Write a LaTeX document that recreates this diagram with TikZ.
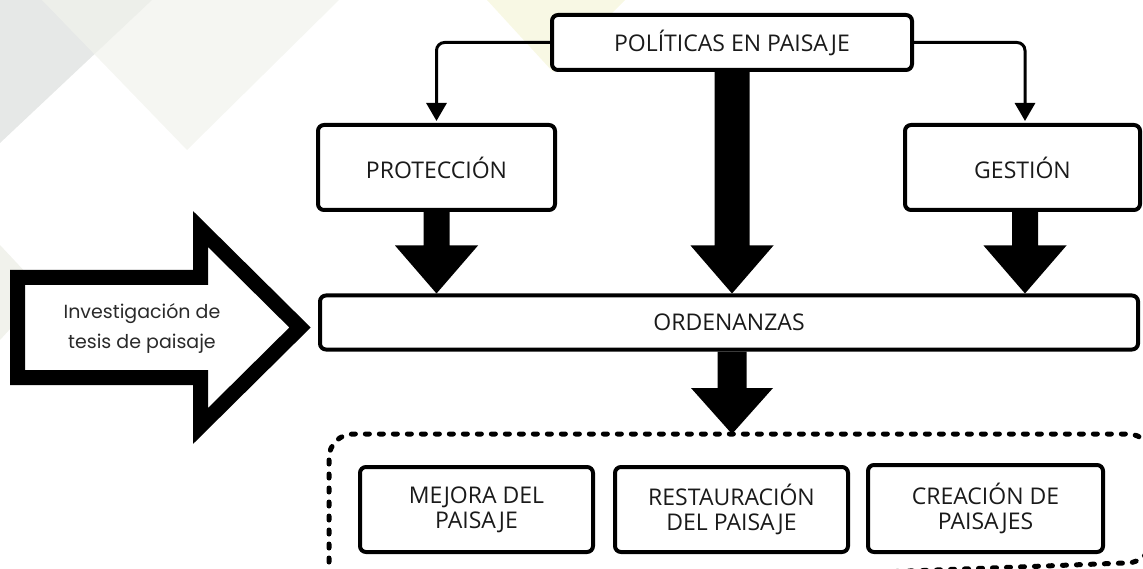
\documentclass[tikz,border=0pt]{standalone}
\usepackage{fontspec}
\setmainfont{Open Sans}
\newfontfamily\popfont{Poppins}
\usetikzlibrary{arrows.meta,calc}
\definecolor{bggray}{HTML}{E6E8E7}
\definecolor{bgoff}{HTML}{F1F2EC}
\definecolor{bgyel}{HTML}{F8F8E4}
\definecolor{txt}{HTML}{1A1A1A}
\definecolor{txtb}{HTML}{2A2A2A}
\newcommand\blockarr[5]{\fill[black] let \p1=(#1), \p2=(#2) in
  (\x1-#3,\y1) -- (\x1+#3,\y1) -- (\x1+#3,\y2+#5) -- (\x1+#4,\y2+#5) --
  (\x1,\y2) -- (\x1-#4,\y2+#5) -- (\x1-#3,\y2+#5) -- cycle;}
\begin{document}
\begin{tikzpicture}[x=1pt,y=-1pt,
  box/.style={draw=black, line width=4pt, rounded corners=6pt, fill=white,
    align=center, inner sep=0pt, text=txt, font=\fontsize{23}{25}\selectfont},
  conn/.style={line width=3pt, rounded corners=8pt, -{Triangle[width=20pt,length=18pt]}},
  grpline/.style={line width=5pt, line cap=round, dash pattern=on 4pt off 10pt, rounded corners=24pt},
  bigarrow/.style={draw=black, line width=15pt, miter limit=10, fill=white}
]
\useasboundingbox (0,0) rectangle (1143,569);
\clip (0,0) rectangle (1143,569);
% background decoration
\fill[bggray] (0,0) -- (152,0) -- (0,143) -- cycle;
\fill[bgoff, opacity=0.7] (42,0) -- (339,0) -- (187,150) -- cycle;
\fill[bgyel] (487,0) -- (625,0) -- (553,72) -- cycle;
\fill[bgoff] (0,245) -- (44,292) -- (0,340) -- cycle;

% nodes
\node[box, minimum width=360pt, minimum height=55pt] (pol) at (732,42.5) {POLÍTICAS EN PAISAJE};
\node[box, minimum width=237pt, minimum height=85pt] (prot) at (436.5,167.5) {PROTECCIÓN};
\node[box, minimum width=235pt, minimum height=85pt] (gest) at (1022.5,167.5) {GESTIÓN};
\node[box, minimum width=818pt, minimum height=54pt] (ord) at (729,322.5) {ORDENANZAS};

% input arrow
\draw[bigarrow] (17.5,277.5) -- (200.5,277.5) -- (200.5,229) -- (300,327.5) -- (200.5,426) -- (200.5,377.5) -- (17.5,377.5) -- cycle;
\node[font=\popfont\fontsize{19}{30}\selectfont, text=txtb, align=center] (inv) at (142,328) {Investigación de\\tesis de paisaje};

% group
\draw[grpline] (329,600) -- (329,434) -- (1152,434) -- (1152,562) -- (345,592) -- cycle;
\coordinate (grp) at (732,434);
\node[box, minimum width=233pt, minimum height=85pt] (mej) at (476.5,509.5) {MEJORA DEL\\PAISAJE};
\node[box, minimum width=233pt, minimum height=85pt] (res) at (731.5,509.5) {RESTAURACIÓN\\DEL PAISAJE};
\node[box, minimum width=235pt, minimum height=87pt] (cre) at (985.5,508.5) {CREACIÓN DE\\PAISAJES};

% connectors
\draw[conn] (pol.west) -| ([yshift=2pt]prot.north);
\draw[conn] (pol.east) -| ([xshift=2.5pt,yshift=2pt]gest.north);

% block arrows
\blockarr{prot.south}{prot.south |- ord.north}{13pt}{41.5pt}{48pt}
\blockarr{pol.south}{pol.south |- ord.north}{17.5pt}{41.5pt}{48pt}
\blockarr{[xshift=2.5pt]gest.south}{[xshift=2.5pt]gest.south |- ord.north}{13pt}{41.5pt}{48pt}
\blockarr{pol.south |- ord.south}{grp}{14.5pt}{41pt}{46pt}
\end{tikzpicture}
\end{document}
